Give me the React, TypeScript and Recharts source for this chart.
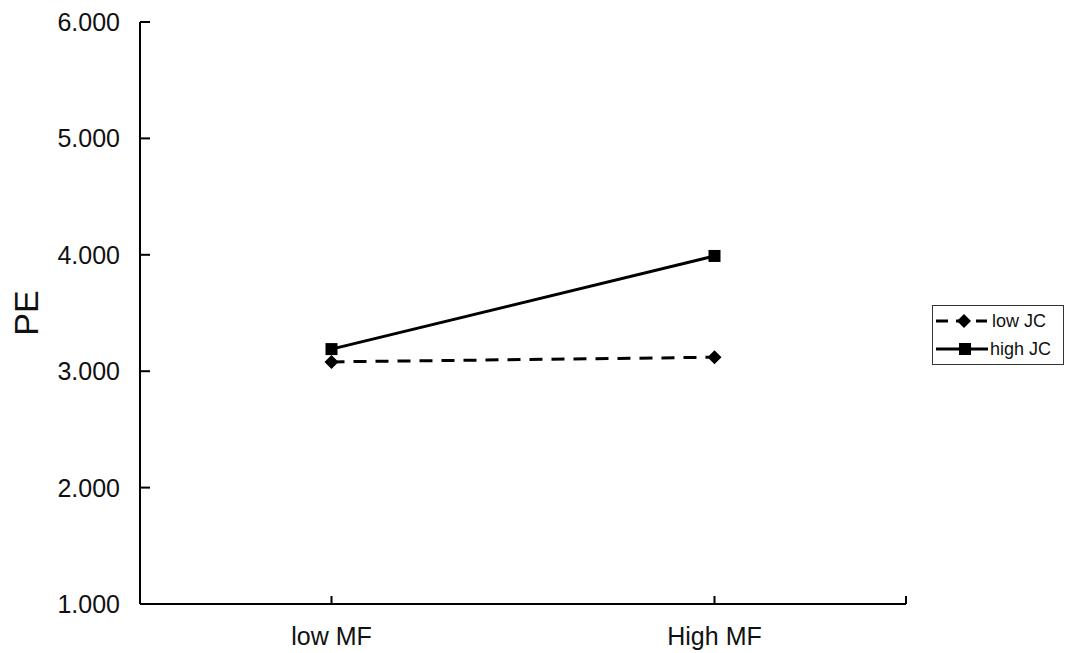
import { LineChart, Line, XAxis, YAxis } from "recharts";

const categories = ["low MF", "High MF"];
const lowJC = [3.08, 3.12];
const highJC = [3.19, 3.99];
const yTicks = [1, 2, 3, 4, 5, 6];

const data = categories.map((c, i) => ({ cat: c, lowJC: lowJC[i], highJC: highJC[i] }));

const FONT = "'Liberation Sans', Arial, Helvetica, sans-serif";
const W = 1065;
const H = 653;
const PLOT_LEFT = 140;
const PLOT_RIGHT = 906;
const HALF_BAND = (PLOT_RIGHT - PLOT_LEFT) / categories.length / 2;

function Square({ cx, cy }: any) {
  if (cx == null || cy == null) return null;
  return <rect x={cx - 6} y={cy - 6} width={12} height={12} fill="#000" />;
}

function Diamond({ cx, cy }: any) {
  if (cx == null || cy == null) return null;
  return (
    <path d={`M${cx},${cy - 7}L${cx + 7},${cy}L${cx},${cy + 7}L${cx - 7},${cy}Z`} fill="#000" />
  );
}

function YTick({ x, y, payload }: any) {
  return (
    <g>
      <line x1={x + 20} y1={y} x2={x + 30} y2={y} stroke="#000" strokeWidth={2} />
      <text x={x} y={y} textAnchor="end" dominantBaseline="central" fontSize={25} fill="#111" fontFamily={FONT}>
        {Number(payload.value).toFixed(3)}
      </text>
    </g>
  );
}

function XTick({ x, y, payload, index }: any) {
  return (
    <g>
      <line x1={x} y1={y} x2={x} y2={y - 8} stroke="#000" strokeWidth={2} />
      {index === categories.length - 1 && (
        <line x1={x + HALF_BAND} y1={y} x2={x + HALF_BAND} y2={y - 8} stroke="#000" strokeWidth={2} />
      )}
      <text x={x} y={y + 41} textAnchor="middle" fontSize={25} fill="#111" fontFamily={FONT}>
        {payload.value}
      </text>
    </g>
  );
}

function LegendBox() {
  return (
    <div
      style={{
        position: "absolute",
        left: 932,
        top: 305,
        border: "1.5px solid #333",
        width: 132,
        height: 60,
        boxSizing: "border-box",
        background: "#fff",
      }}
    >
      <svg width={129} height={57} style={{ display: "block" }}>
        <line x1={3} y1={15} x2={54} y2={15} stroke="#000" strokeWidth={3} strokeDasharray="12 8" />
        <Diamond cx={31} cy={15} />
        <text x={59} y={15} dominantBaseline="central" fontSize={18} fill="#111" fontFamily={FONT}>
          low JC
        </text>
        <line x1={3} y1={43} x2={55} y2={43} stroke="#000" strokeWidth={3} />
        <Square cx={32} cy={43} />
        <text x={57} y={43} dominantBaseline="central" fontSize={18} fill="#111" fontFamily={FONT}>
          high JC
        </text>
      </svg>
    </div>
  );
}

export default function App() {
  return (
    <div style={{ position: "absolute", left: 0, top: 0, width: W, height: H, background: "#fff" }}>
      <LineChart
        width={W}
        height={H}
        data={data}
        margin={{ top: 22, right: W - PLOT_RIGHT, bottom: 0, left: 0 }}
      >
        <XAxis
          dataKey="cat"
          height={H - 604}
          padding={{ left: HALF_BAND, right: HALF_BAND }}
          axisLine={{ stroke: "#000", strokeWidth: 2 }}
          tickLine={false}
          tickSize={0}
          tickMargin={0}
          tick={<XTick />}
          interval={0}
        />
        <YAxis
          width={PLOT_LEFT}
          domain={[1, 6]}
          ticks={yTicks}
          axisLine={{ stroke: "#000", strokeWidth: 2 }}
          tickLine={false}
          tickSize={0}
          tickMargin={20}
          tick={<YTick />}
          label={{
            value: "PE",
            angle: -90,
            position: "insideLeft",
            offset: 26,
            style: { textAnchor: "middle", fontSize: 34, fill: "#111", fontFamily: FONT },
          }}
        />
        <Line
          dataKey="lowJC"
          stroke="#000"
          strokeWidth={3}
          strokeDasharray="13 9"
          dot={<Diamond />}
          isAnimationActive={false}
        />
        <Line
          dataKey="highJC"
          stroke="#000"
          strokeWidth={3}
          dot={<Square />}
          isAnimationActive={false}
        />
      </LineChart>
      <LegendBox />
    </div>
  );
}
